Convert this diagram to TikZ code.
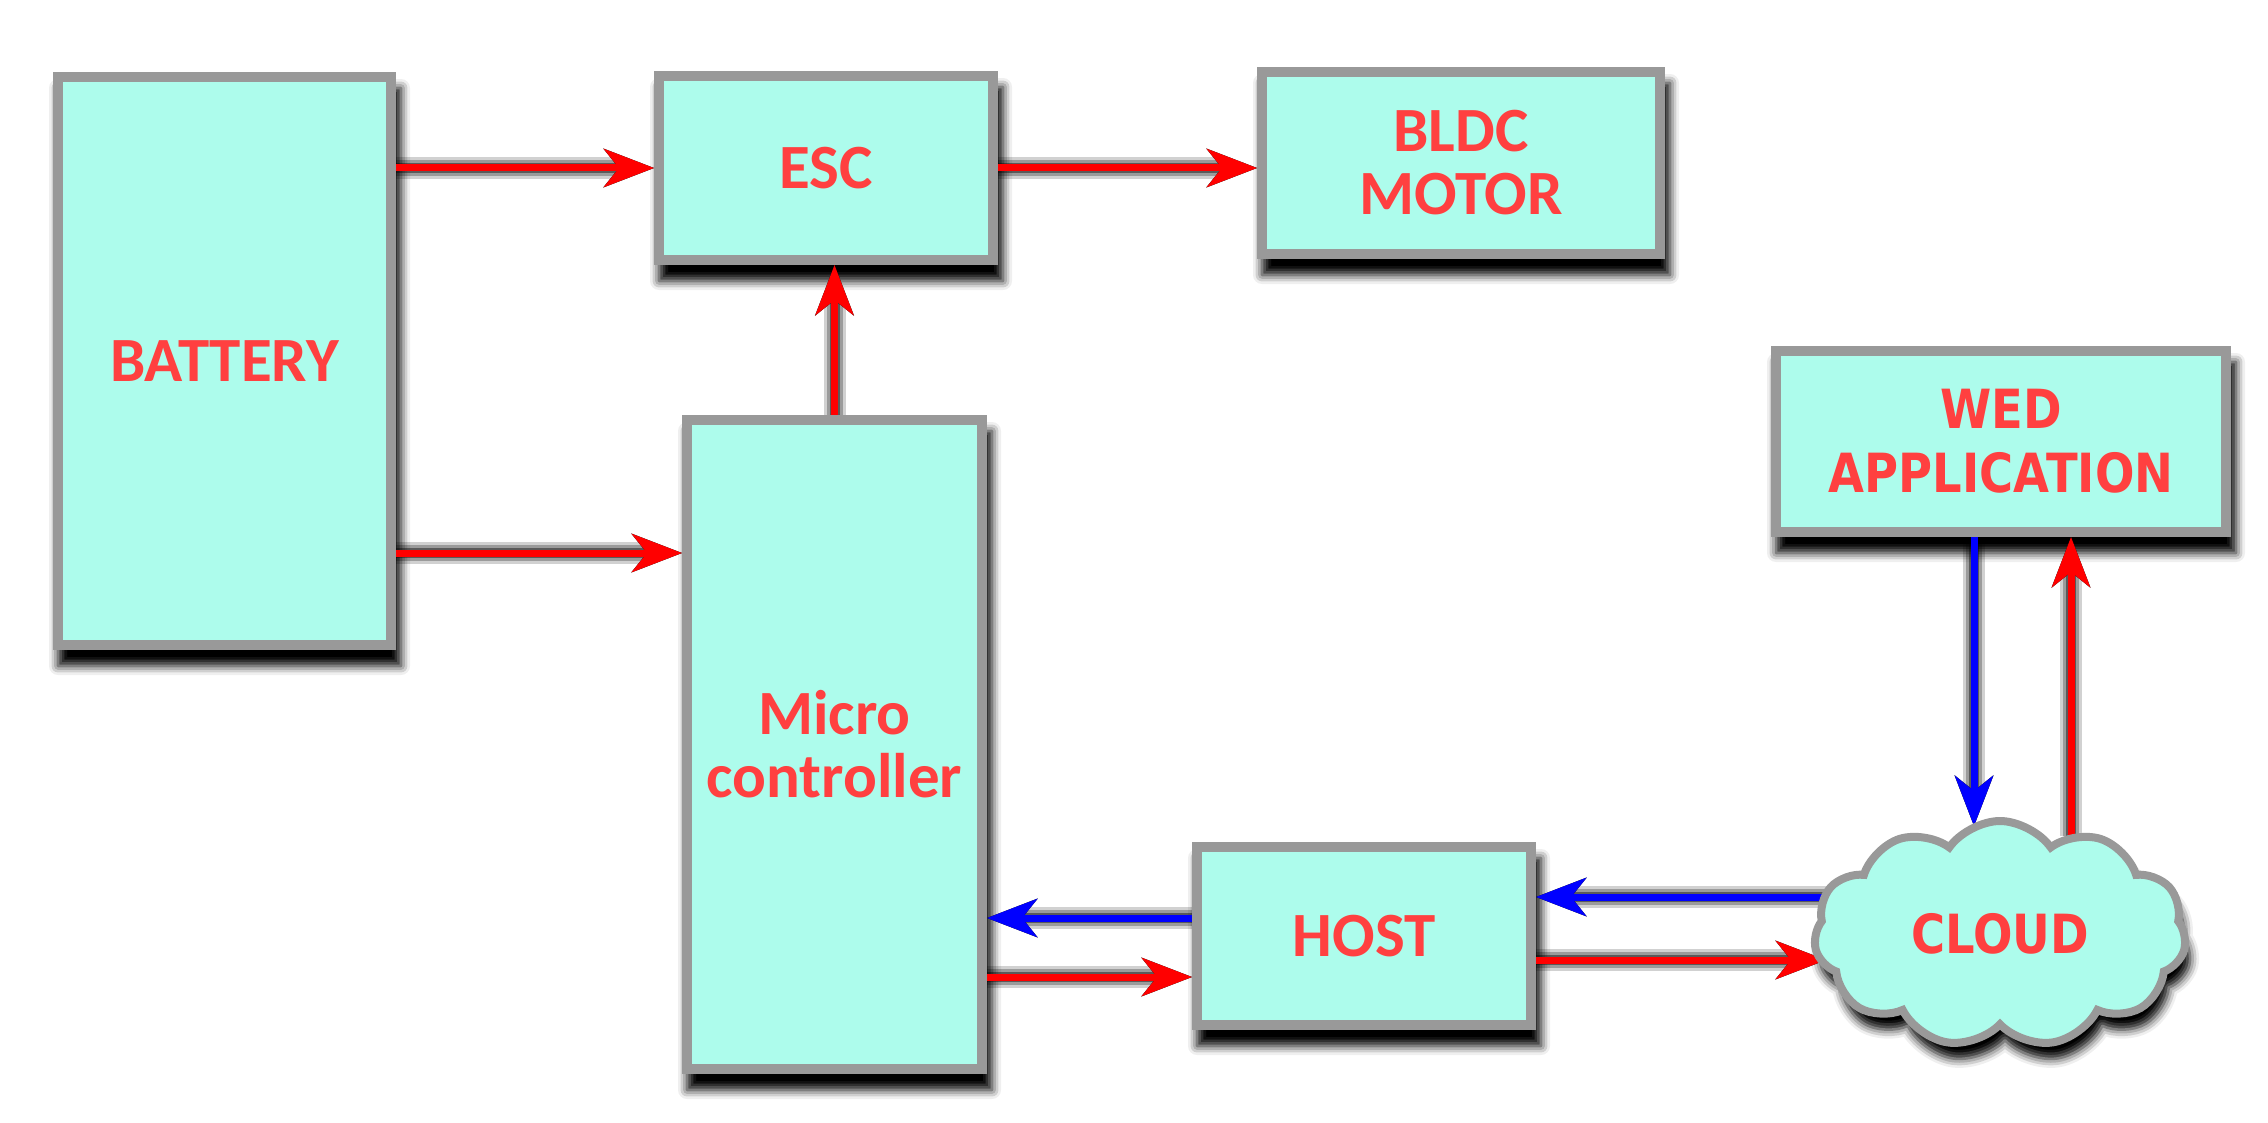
\documentclass[tikz,border=0pt]{standalone}
\usepackage{fontspec}
\setmainfont{Carlito}
\newfontfamily\dvfont[FakeStretch=0.86]{DejaVu Sans}
\usetikzlibrary{arrows.meta,shapes.symbols,shadows.blur}
\pgfdeclarelayer{shadow}
\pgfdeclarelayer{background}
\pgfsetlayers{shadow,background,main}
\definecolor{boxfill}{HTML}{ADFCEC}
\definecolor{boxline}{HTML}{999999}
\definecolor{txt}{HTML}{FF4040}
\definecolor{ared}{HTML}{FF0000}
\definecolor{ablue}{HTML}{0000FF}
\begin{document}
\begin{tikzpicture}[x=1pt,y=-1pt,
  box/.style={draw=boxline, line width=10pt, fill=boxfill, text=txt,
    font=\fontsize{63}{63}\selectfont\bfseries, align=center, inner sep=0pt},
  vbox/.style={box, font=\dvfont\bfseries\fontsize{54}{64}\selectfont},
  cloudbox/.style={cloud, cloud puffs=11, cloud puff arc=110, cloud ignores aspect,
    minimum width=372pt, minimum height=226pt},
  boxshadow/.style={blur shadow={shadow xshift=5pt, shadow yshift=-16pt,
    shadow blur radius=9pt, shadow opacity=100}},
  tip/.style={-{Stealth[length=50pt,width=38pt,inset=15pt]}},
  ra/.style={draw=ared, line width=7pt, tip},
  ba/.style={draw=ablue, line width=7pt, tip},
  ash/.style={draw=black, tip, shift={(7pt,-15pt)}}
]
\useasboundingbox (0,0) rectangle (2268,1123);

% nodes
\node[box, minimum width=333pt, minimum height=568pt] (battery) at (224.5,361) {BATTERY};
\node[box, minimum width=334pt, minimum height=184pt] (esc) at (826,168) {ESC};
\node[box, minimum width=398pt, minimum height=182pt] (bldc) at (1461,163) {BLDC\\MOTOR};
\node[box, minimum width=295pt, minimum height=649pt] (micro) at (834.5,744.5) {Micro\\controller};
\node[box, minimum width=334pt, minimum height=178pt] (host) at (1364,936) {HOST};
\node[vbox, minimum width=450pt, minimum height=181pt] (web) at (2001,441.5) {WED\\APPLICATION};
\node[vbox, cloudbox, line width=8pt] (cloud) at (2000,934) {CLOUD};

% connector end points
\coordinate (b2) at ([yshift=-192pt]battery.east);
\coordinate (h1) at ([yshift=18pt]host.west);
\coordinate (h2) at ([yshift=-41pt]host.west);
\coordinate (c1) at (1852,897);
\coordinate (c2) at (1826,960);
\coordinate (c3) at (1974,826);
\coordinate (c4) at (2071,836);

% shadows
\begin{pgfonlayer}{shadow}
  \foreach \n in {battery,esc,bldc,micro,host,web}
    \path[boxshadow] (\n.south west) rectangle (\n.north east);
  \node[cloudbox, boxshadow] at (cloud.center) {\phantom{C}};
  \foreach \w/\o in {22/0.18,16/0.26,10/0.42,5/0.65} {
    \draw[ash, line width=\w pt, opacity=\o] (battery.east |- esc.west) -- (esc.west);
    \draw[ash, line width=\w pt, opacity=\o] (esc.east) -- (esc.east -| bldc.west);
    \draw[ash, line width=\w pt, opacity=\o] (micro.north) -- (micro.north |- esc.south);
    \draw[ash, line width=\w pt, opacity=\o] (b2) -- (b2 -| micro.west);
    \draw[ash, line width=\w pt, opacity=\o] (h1) -- (h1 -| micro.east);
    \draw[ash, line width=\w pt, opacity=\o] (h2 -| micro.east) -- (h2);
    \draw[ash, line width=\w pt, opacity=\o] (c1) -- (c1 -| host.east);
    \draw[ash, line width=\w pt, opacity=\o] (c2 -| host.east) -- (c2);
    \draw[ash, line width=\w pt, opacity=\o] (c3 |- web.south) -- (c3);
    \draw[ash, line width=\w pt, opacity=\o] (c4) -- (c4 |- web.south);
  }
\end{pgfonlayer}

% connectors
\begin{pgfonlayer}{background}
  \draw[ra] (battery.east |- esc.west) -- (esc.west);
  \draw[ra] (esc.east) -- (esc.east -| bldc.west);
  \draw[ra] (micro.north) -- (micro.north |- esc.south);
  \draw[ra] (b2) -- (b2 -| micro.west);
  \draw[ba] (h1) -- (h1 -| micro.east);
  \draw[ra] (h2 -| micro.east) -- (h2);
  \draw[ba] (c1) -- (c1 -| host.east);
  \draw[ra] (c2 -| host.east) -- (c2);
  \draw[ba] (c3 |- web.south) -- (c3);
  \draw[ra] (c4) -- (c4 |- web.south);
\end{pgfonlayer}
\end{tikzpicture}
\end{document}
